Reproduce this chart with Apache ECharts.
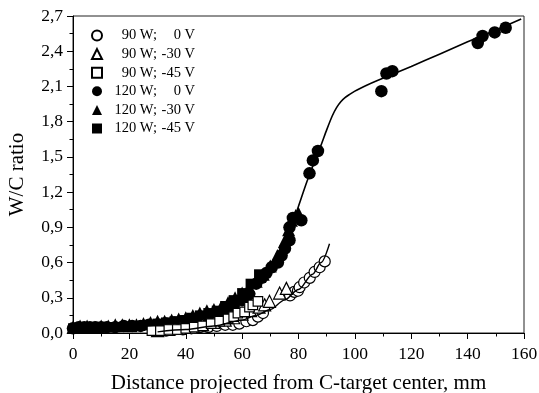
<!DOCTYPE html>
<html>
<head>
<meta charset="utf-8">
<script src="https://cdn.jsdelivr.net/npm/echarts@6/dist/echarts.min.js"></script>
<style>html,body{margin:0;padding:0;background:#fff}#c{width:539px;height:393px}</style>
</head>
<body>
<div id="c"></div>
<script>
// ---- data ----
const xTicks = [0, 20, 40, 60, 80, 100, 120, 140, 160];
const yTicks = [0, 0.3, 0.6, 0.9, 1.2, 1.5, 1.8, 2.1, 2.4, 2.7];
const seriesNames = ['90 W;|0 V', '90 W;|-30 V', '90 W;|-45 V', '120 W;|0 V', '120 W;|-30 V', '120 W;|-45 V'];

const p90_0 = [[30,0.02],[33,0.02],[36,0.03],[39,0.03],[42,0.04],[45,0.05],[48,0.05],[51,0.06],[54,0.07],[56.7,0.07],[59,0.08],[61.5,0.1],[63.8,0.11],[65.6,0.14],[67.4,0.17],[77,0.32],[78.5,0.35],[79.8,0.36],[80.4,0.39],[82,0.43],[84,0.47],[85.7,0.52],[87.5,0.56],[89.3,0.61]];
const p90_30 = [[30,0.02],[34,0.03],[38,0.04],[42,0.05],[46,0.07],[50,0.09],[54,0.11],[57,0.13],[60,0.16],[63,0.19],[66,0.22],[68,0.24],[69.7,0.27],[73.3,0.34],[75.7,0.38]];
const p90_45 = [[28,0.02],[31,0.02],[34,0.03],[37,0.03],[40,0.04],[43,0.05],[46,0.06],[49,0.08],[52,0.1],[55,0.12],[57,0.14],[58.5,0.17],[60.9,0.18],[62.6,0.22],[63.8,0.24],[65.6,0.27]];
const p120_0 = [[0,0.04],[2,0.05],[4,0.05],[6,0.05],[8,0.05],[10,0.05],[12,0.05],[15,0.05],[18,0.06],[21,0.06],[24,0.06],[27,0.07],[30,0.07],[33,0.08],[36,0.09],[39,0.1],[42,0.11],[45,0.12],[48,0.14],[51,0.16],[54,0.19],[57,0.23],[60,0.28],[62.5,0.33],[65,0.42],[67,0.47],[68.6,0.51],[70.5,0.56],[72.7,0.6],[74,0.66],[75.2,0.72],[76.8,0.79],[76.8,0.9],[78,0.98],[81,0.96],[83.9,1.36],[85.1,1.47],[86.9,1.55],[109.4,2.06],[111.2,2.21],[113.3,2.23],[143.6,2.47],[145.3,2.53],[149.6,2.56],[153.5,2.6]];
const p120_30 = [[0,0.05],[2.5,0.06],[5,0.06],[7.5,0.05],[10,0.06],[12.5,0.06],[15,0.07],[17.5,0.07],[20,0.07],[22.5,0.07],[25,0.08],[27.5,0.09],[30,0.1],[32.5,0.1],[35,0.11],[37.5,0.12],[40,0.13],[42.5,0.15],[45,0.17],[47.5,0.19],[50,0.2],[52.5,0.22],[55,0.26],[57.5,0.3],[60,0.34],[62.5,0.39],[65,0.44],[67.5,0.5],[70,0.57],[72.5,0.66],[75,0.78],[76.5,0.88],[77.5,0.96],[79,1.0],[80,1.02]];
const p120_45 = [[0,0.04],[2,0.04],[4,0.04],[6,0.04],[9,0.05],[12,0.05],[15,0.05],[18,0.05],[21,0.05],[24,0.06],[27,0.07],[30,0.08],[33,0.09],[36,0.1],[39,0.11],[42,0.13],[45,0.15],[48,0.17],[51,0.19],[54,0.23],[57,0.28],[60,0.34],[63,0.42],[66,0.5]];
const fitUpper = [[0,0.03],[10,0.035],[20,0.05],[30,0.07],[40,0.11],[50,0.19],[55,0.25],[60,0.33],[65,0.44],[70,0.58],[75,0.78],[78,0.94],[80,1.08],[83,1.29],[86,1.48],[88,1.6],[90,1.73],[92,1.85],[93.5,1.92],[95,1.97],[96.5,2.005],[98,2.03],[100,2.06],[102,2.085],[104,2.108],[108,2.15],[120,2.27],[130,2.375],[140,2.48],[150,2.58],[159,2.675]];
const fitLower = [[30,0.01],[40,0.03],[50,0.06],[60,0.11],[65,0.15],[70,0.2],[75,0.28],[80,0.37],[85,0.5],[88,0.6],[91,0.76]];

const FONT = 'Liberation Serif';
function openS(name, data, sym, size) {
  return {name, type:'scatter', data, symbol:sym, symbolSize:size, z:4,
    itemStyle:{color:'#fff', borderColor:'#000', borderWidth:1.2, opacity:1}};
}
function fillS(name, data, sym, size) {
  return {name, type:'scatter', data, symbol:sym, symbolSize:size, z:3,
    itemStyle:{color:'#000', borderColor:'#000', borderWidth:0, opacity:1}};
}
const chart = echarts.init(document.getElementById('c'));
chart.setOption({
  animation:false,
  backgroundColor:'#fff',
  grid:{left:73, right:15, top:16, bottom:60, show:true, borderColor:'#222', borderWidth:1,
    containLabel:false, outerBoundsMode:'none'},
  legend:{
    orient:'vertical', left:86, top:23, itemWidth:10, itemHeight:10, itemGap:3.6,
    data: seriesNames,
    formatter: n => { const p = n.split('|'); return '{a|' + p[0] + '}{b|' + p[1] + '}'; },
    textStyle:{fontFamily:FONT, fontSize:14.5, color:'#000', lineHeight:14,
      rich:{a:{fontFamily:FONT, fontSize:14.5, width:50, align:'right', color:'#000'},
            b:{fontFamily:FONT, fontSize:14.5, width:38, align:'right', color:'#000'}}}
  },
  xAxis:{type:'value', min:xTicks[0], max:xTicks[xTicks.length-1], interval:20,
    name:'Distance projected from C-target center, mm', nameLocation:'middle', nameGap:40,
    nameTextStyle:{fontFamily:FONT, fontSize:21, color:'#000'},
    axisLine:{lineStyle:{color:'#000', width:1}},
    axisTick:{inside:false, length:6, lineStyle:{color:'#000'}},
    minorTick:{show:true, splitNumber:2, length:3.5, lineStyle:{color:'#000'}},
    splitLine:{show:false},
    axisLabel:{fontFamily:FONT, fontSize:17.5, color:'#000', margin:12}
  },
  yAxis:{type:'value', min:yTicks[0], max:yTicks[yTicks.length-1], interval:0.3,
    name:'W/C ratio', nameLocation:'middle', nameGap:45,
    nameTextStyle:{fontFamily:FONT, fontSize:21, color:'#000'},
    axisLine:{show:true, lineStyle:{color:'#000', width:1}},
    axisTick:{show:true, inside:false, length:6, lineStyle:{color:'#000'}},
    minorTick:{show:true, splitNumber:2, length:3.5, lineStyle:{color:'#000'}},
    splitLine:{show:false},
    axisLabel:{fontFamily:FONT, fontSize:17.5, color:'#000', margin:10,
      formatter: v => v.toFixed(1).replace('.', ',')}
  },
  series:[
    fillS(seriesNames[3], p120_0, 'circle', 12.5),
    fillS(seriesNames[4], p120_30, 'triangle', 13),
    fillS(seriesNames[5], p120_45, 'rect', 10),
    openS(seriesNames[0], p90_0, 'circle', 11),
    openS(seriesNames[1], p90_30, 'triangle', 12),
    openS(seriesNames[2], p90_45, 'rect', 9.5),
    {type:'line', data:fitUpper, smooth:0.25, showSymbol:false, z:5,
      lineStyle:{color:'#000', width:1.6}},
    {type:'line', data:fitLower, smooth:0.3, smoothMonotone:'x', showSymbol:false, z:5,
      lineStyle:{color:'#000', width:1.4}}
  ]
});
</script>
</body>
</html>
